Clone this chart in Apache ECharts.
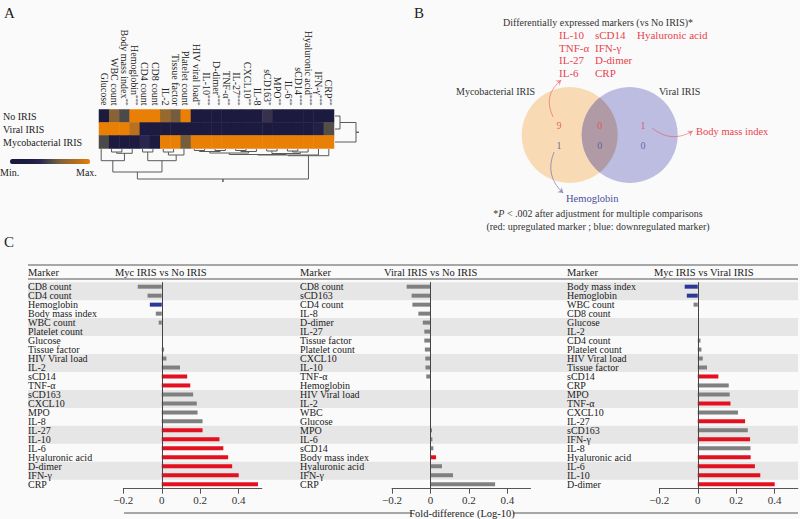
<!DOCTYPE html>
<html><head><meta charset="utf-8">
<script src="https://cdn.jsdelivr.net/npm/echarts@6/dist/echarts.min.js"></script>
<style>html,body{margin:0;padding:0;background:#fafafa}#c{width:800px;height:519px}</style>
</head><body><div id="c"></div>
<script>
// ---------- Panel A : heatmap ----------
const heatColumns = ['Glucose','WBC count','Body mass index','Hemoglobin','CD4 count','CD8 count','IL-2','Tissue factor','Platelet count','HIV viral load','IL-10','D-dimer','TNF-α','IL-27','CXCL10','IL-8','sCD163','MPO','IL-6','sCD14','Hyaluronic acid','IFN-γ','CRP'];
const heatStars = ['','','**','***','','','','','','*','***','***','**','***','**','','*','**','**','***','***','***','**'];
const heatRows = ['No IRIS','Viral IRIS','Mycobacterial IRIS'];
const heatNoIRIS = [0.02,0.66,0.5,1,1,1,0.72,0.6,1,0.02,0.12,0.06,0.12,0.12,0.1,0.06,0.42,0.02,0.02,0.02,0.02,0.02,0.02];
const heatViral  = [1,1,1,0.85,0.03,0.06,0,0,0,0,0,0,0,0,0,0,0,0,0.05,0.1,0.12,0.3,0.52];
const heatMyco   = [0.5,0,0,0.02,0.38,0.04,1,1,0.6,1,1,1,1,1,1,1,1,1,1,1,1,1,1];
// dendrogram linkages: [nodeA, nodeB, height]; leaves first, merged nodes numbered after
const colLinkage = [[1,2,3],[23,3,4.3],[0,24,11.7],[4,5,3],[6,7,3],[27,8,6],[26,28,11.7],[25,29,23],
  [9,10,1.5],[11,12,1.5],[13,14,1.5],[31,32,2.5],[33,15,2.5],[16,17,2],[18,19,2],[37,20,3],[34,35,4],[36,38,4.5],[39,40,5.5],[41,21,6],[42,22,6.7],[30,43,30]];
const rowLinkage = [[0,1,5],[3,2,21]];

// ---------- Panel B : Venn ----------
const vennSets = ['Mycobacterial IRIS','Viral IRIS'];
const vennUp = [9,0,1];     // myc only, both, viral only
const vennDown = [1,0,0];
const mycUpMarkers = ['IL-10','TNF-α','IL-27','IL-6','sCD14','IFN-γ','D-dimer','CRP','Hyaluronic acid'];
const viralUpMarkers = ['Body mass index'];
const mycDownMarkers = ['Hemoglobin'];

// ---------- Panel C : bars ----------
const mycNoMarkers = ['CD8 count','CD4 count','Hemoglobin','Body mass index','WBC count','Platelet count','Glucose','Tissue factor','HIV Viral load','IL-2','sCD14','TNF-α','sCD163','CXCL10','MPO','IL-8','IL-27','IL-10','IL-6','Hyaluronic acid','D-dimer','IFN-γ','CRP'];
const mycNoValues = [-0.125,-0.074,-0.062,-0.031,-0.016,0,0,0.012,0.024,0.095,0.132,0.148,0.163,0.182,0.186,0.212,0.212,0.30,0.32,0.345,0.366,0.40,0.50];
const mycNoStatus = ['n','n','d','n','n','n','n','n','n','n','u','u','n','n','n','n','u','u','u','u','u','u','u'];

const viralNoMarkers = ['CD8 count','sCD163','CD4 count','IL-8','D-dimer','IL-27','Tissue factor','Platelet count','CXCL10','IL-10','TNF-α','Hemoglobin','HIV Viral load','IL-2','WBC','Glucose','MPO','IL-6','sCD14','Body mass index','Hyaluronic acid','IFN-γ','CRP'];
const viralNoValues = [-0.124,-0.098,-0.094,-0.063,-0.04,-0.032,-0.032,-0.029,-0.027,-0.026,-0.022,0,0,0,0,0,0.008,0.01,0.015,0.029,0.06,0.117,0.336];
const viralNoStatus = ['n','n','n','n','n','n','n','n','n','n','n','n','n','n','n','n','n','n','n','u','n','n','n'];

const mycViralMarkers = ['Body mass index','Hemoglobin','WBC count','CD8 count','Glucose','IL-2','CD4 count','Platelet count','HIV Viral load','Tissue factor','sCD14','CRP','MPO','TNF-α','CXCL10','IL-27','sCD163','IFN-γ','IL-8','Hyaluronic acid','IL-6','IL-10','D-dimer'];
const mycViralValues = [-0.068,-0.057,-0.022,0,0,0,0.014,0.019,0.026,0.048,0.107,0.161,0.166,0.17,0.209,0.246,0.26,0.272,0.274,0.275,0.297,0.325,0.40];
const mycViralStatus = ['d','d','n','n','n','n','n','n','n','n','u','n','n','u','n','u','n','u','n','u','u','u','u'];

const xTicks = [-0.2,0,0.2,0.4];

// ================= build =================
const FONT = "'Liberation Serif','DejaVu Serif',serif";
const RED = '#e3101f', BLUE = '#2c3896', GRAY = '#808080';
const statusColor = {u: RED, d: BLUE, n: GRAY};
const chart = echarts.init(document.getElementById('c'), null, {renderer: 'svg'});

function dendro(linkage, nLeaves, stub) {
  const pos = [], hgt = [], segs = [];
  for (let i = 0; i < nLeaves; i++) { pos.push(i); hgt.push(0); }
  linkage.forEach(([a, b, h]) => {
    segs.push([pos[a], hgt[a], pos[b], hgt[b], h]);
    pos.push((pos[a] + pos[b]) / 2); hgt.push(h);
  });
  const r = pos.length - 1;
  segs.push([pos[r], hgt[r], pos[r], hgt[r], hgt[r] + stub]);
  return segs;
}
const colSegs = dendro(colLinkage, heatColumns.length, 3);
const rowSegs = dendro(rowLinkage, heatRows.length, 3);

const heatData = [];
[heatNoIRIS, heatViral, heatMyco].forEach((arr, r) => arr.forEach((v, c) => heatData.push([c, r, v])));

const grids = [], xAxes = [], yAxes = [], series = [];
function addGrid(g, xa, ya) { grids.push(g); const gi = grids.length - 1;
  xAxes.push(Object.assign({gridIndex: gi}, xa)); yAxes.push(Object.assign({gridIndex: gi}, ya)); return xAxes.length - 1; }
const hidden = {show: false};

// heatmap grid (0)
const hm = addGrid({left: 96, top: 109.5, width: 238, height: 39},
  {type: 'category', position: 'top', data: heatColumns, axisLine: hidden, axisTick: hidden, splitArea: hidden,
   axisLabel: {interval: 0, rotate: 90, margin: 4, lineHeight: 10,
     fontFamily: FONT, fontSize: 10, color: '#222',
     formatter: (v, i) => heatStars[i] ? v + '{s|' + heatStars[i] + '}' : v,
     rich: {s: {fontSize: 7, fontFamily: FONT, color: '#222', verticalAlign: 'top', lineHeight: 10}}}},
  {type: 'category', inverse: true, data: heatRows, axisLine: hidden, axisTick: hidden,
   axisLabel: {interval: 0, align: 'left', margin: 96, fontFamily: FONT, fontSize: 10, lineHeight: 12, color: '#222'}});
series.push({type: 'heatmap', xAxisIndex: hm, yAxisIndex: hm, data: heatData, itemStyle: {borderWidth: 0}, silent: true});

function dendroRender(swap) {
  return function (params, api) {
    const xa = api.value(0), ha = api.value(1), xb = api.value(2), hb = api.value(3), h = api.value(4);
    const P = (p, q) => api.coord(swap ? [q, p] : [p, q]);
    return {type: 'polyline', shape: {points: [P(xa, ha), P(xa, h), P(xb, h), P(xb, hb)]},
      style: {stroke: '#5a5a5a', lineWidth: 1, fill: null}};
  };
}
// column dendrogram grid
const cd = addGrid({left: 96, top: 149, width: 238, height: 33},
  {type: 'value', min: -0.5, max: 22.5, show: false}, {type: 'value', min: 0, max: 33, inverse: true, show: false});
series.push({type: 'custom', xAxisIndex: cd, yAxisIndex: cd, data: colSegs, renderItem: dendroRender(false), silent: true, clip: false});
// row dendrogram grid
const rd = addGrid({left: 335, top: 109.5, width: 25, height: 39},
  {type: 'value', min: 0, max: 25, show: false}, {type: 'value', min: -0.5, max: 2.5, inverse: true, show: false});
series.push({type: 'custom', xAxisIndex: rd, yAxisIndex: rd, data: rowSegs, renderItem: dendroRender(true), silent: true, clip: false});

// Venn grid
const vg = addGrid({left: 503.7, top: 67.8, width: 192, height: 134.4},
  {type: 'value', min: -2, max: 2, show: false}, {type: 'value', min: -1.4, max: 1.4, show: false});
const vennCircles = [[-0.625, 0, 1], [0.625, 0, 1]];
const vennFill = ['#f8dab4', '#bcbde0'];
series.push({type: 'custom', xAxisIndex: vg, yAxisIndex: vg, data: vennCircles, silent: true, clip: false, z: 1,
  renderItem(params, api) {
    const c = api.coord([api.value(0), api.value(1)]);
    const r = api.size([api.value(2), 0])[0];
    return {type: 'circle', shape: {cx: c[0], cy: c[1], r}, style: {fill: vennFill[params.dataIndex]}};
  }});
series.push({type: 'custom', xAxisIndex: vg, yAxisIndex: vg, data: [[0]], silent: true, clip: false, z: 1,
  renderItem(params, api) {
    const c1 = api.coord([vennCircles[0][0], vennCircles[0][1]]);
    const c2 = api.coord([vennCircles[1][0], vennCircles[1][1]]);
    const r = api.size([vennCircles[0][2], 0])[0];
    const d = c2[0] - c1[0], h = Math.sqrt(r * r - d * d / 4), mx = (c1[0] + c2[0]) / 2, cy = c1[1];
    return {type: 'path', shape: {pathData: `M${mx} ${cy - h}A${r} ${r} 0 0 1 ${mx} ${cy + h}A${r} ${r} 0 0 1 ${mx} ${cy - h}Z`},
      style: {fill: '#b09aa6'}};
  }});
const countX = [-0.85, 0.0, 0.9];
const countData = [];
vennUp.forEach((v, i) => countData.push({value: [countX[i], 0.19, v], label: {color: '#e8434e'}}));
vennDown.forEach((v, i) => countData.push({value: [countX[i], -0.21, v], label: {color: '#4a4f9c'}}));
series.push({type: 'scatter', xAxisIndex: vg, yAxisIndex: vg, data: countData, symbolSize: 0, silent: true, z: 5,
  label: {show: true, position: 'inside', formatter: p => String(p.value[2]), fontFamily: FONT, fontSize: 10}});
series.push({type: 'lines', coordinateSystem: 'cartesian2d', xAxisIndex: vg, yAxisIndex: vg, silent: true, z: 5,
  symbol: ['none', 'arrow'], symbolSize: 5,
  data: [
    {coords: [[-0.97, 0.375], [-0.8, 1.146]], lineStyle: {color: '#e8434e', curveness: 0.4, width: 1}},
    {coords: [[1.09, 0.146], [1.94, 0.083]], lineStyle: {color: '#e8434e', curveness: -0.35, width: 1}},
    {coords: [[-0.95, -0.354], [-0.76, -1.21]], lineStyle: {color: '#4a4f9c', curveness: -0.35, width: 1}}
  ]});

// Panel C: background bands grid
const bandTop = 282.2, bandH = 206.5;
const bg = addGrid({left: 28, top: bandTop, width: 770, height: bandH},
  {type: 'value', min: 0, max: 1, show: false},
  {type: 'category', inverse: true, data: mycNoMarkers, axisLine: hidden, axisTick: hidden, axisLabel: hidden,
   splitArea: {show: true, areaStyle: {color: ['#e6e6e6', 'rgba(0,0,0,0)']}}});
series.push({type: 'bar', xAxisIndex: bg, yAxisIndex: bg, data: [], silent: true});

const panels = [
  {left: 123.3, labelX: 28, markers: mycNoMarkers, values: mycNoValues, status: mycNoStatus},
  {left: 392, labelX: 300, markers: viralNoMarkers, values: viralNoValues, status: viralNoStatus},
  {left: 659.3, labelX: 567, markers: mycViralMarkers, values: mycViralValues, status: mycViralStatus}
];
panels.forEach(p => {
  const gi = addGrid({left: p.left, top: bandTop, width: 138.5, height: bandH},
    {type: 'value', min: -0.2, max: 0.52, splitLine: hidden,
     axisLine: {show: true, lineStyle: {color: '#555', width: 1}},
     axisTick: {show: true, length: 5, customValues: xTicks, lineStyle: {color: '#555'}},
     axisLabel: {customValues: xTicks, margin: 6, fontFamily: FONT, fontSize: 11, color: '#333',
       formatter: v => v === 0 ? '0' : (v < 0 ? '−' : '') + Math.abs(v).toFixed(1)}},
    {type: 'category', inverse: true, data: p.markers, axisLine: hidden, axisTick: hidden,
     axisLabel: {align: 'left', margin: p.left - p.labelX, fontFamily: FONT, fontSize: 10, lineHeight: 9, color: '#222', interval: 0}});
  series.push({type: 'bar', xAxisIndex: gi, yAxisIndex: gi, barWidth: 4, silent: true,
    data: p.values.map((v, i) => ({value: v, itemStyle: {color: statusColor[p.status[i]]}})),
    markLine: {silent: true, symbol: 'none', label: {show: false}, lineStyle: {color: '#444', type: 'solid', width: 1},
      data: [{xAxis: 0}]}});
});

// ---- text / rule graphics ----
function T(text, x, y, opt) {
  return Object.assign({type: 'text', x, y, silent: true,
    style: Object.assign({text, font: `11px ${FONT}`, fill: '#222', align: 'left', verticalAlign: 'middle'}, opt || {})});
}
function L(x1, y1, x2, y2, color) {
  return {type: 'line', silent: true, shape: {x1, y1, x2, y2}, style: {stroke: color || '#666', lineWidth: 1}};
}
const g = [];
g.push(T('A', 4, 13, {font: `15px ${FONT}`}));
g.push(T('B', 414, 13, {font: `15px ${FONT}`}));
g.push(T('C', 4, 242, {font: `15px ${FONT}`}));
g.push(T('Min.', 0, 172, {font: `10px ${FONT}`}));
g.push(T('Max.', 76, 172, {font: `10px ${FONT}`}));
// Venn texts
g.push(T('Differentially expressed markers (vs No IRIS)*', 598, 22, {align: 'center', font: `10px ${FONT}`, fill: '#333'}));
const listX = [559, 595, 637], listY = [35, 47.5, 60, 72.5];
mycUpMarkers.forEach((m, i) => {
  const col = i < 8 ? Math.floor(i / 4) : 2, row = i < 8 ? i % 4 : 0;
  g.push(T(m, listX[col], listY[row], {fill: '#e8434e', font: `11px ${FONT}`}));
});
g.push(T(vennSets[0], 456, 91, {fill: '#333', font: `10px ${FONT}`}));
g.push(T(vennSets[1], 659, 91, {fill: '#333', font: `10px ${FONT}`}));
g.push(T(viralUpMarkers[0], 696, 131.5, {fill: '#e8434e', font: `10.5px ${FONT}`}));
g.push(T(mycDownMarkers[0], 566, 198, {fill: '#4a4f9c', font: `10.5px ${FONT}`}));
g.push({type: 'text', x: 598, y: 213, silent: true, style: {text: '*{i|P} < .002 after adjustment for multiple comparisons',
  font: `10px ${FONT}`, fill: '#333', align: 'center', verticalAlign: 'middle',
  rich: {i: {fontStyle: 'italic', font: `italic 10px ${FONT}`, fill: '#333'}}}});
g.push(T('(red: upregulated marker ; blue: downregulated marker)', 598, 226, {align: 'center', font: `10px ${FONT}`, fill: '#333'}));
// Panel C header
g.push(L(28, 265, 798, 265, '#555'));
g.push(L(28, 279, 798, 279, '#555'));
[['Marker', 28], ['Myc IRIS vs No IRIS', 115], ['Marker', 300], ['Viral IRIS vs No IRIS', 384], ['Marker', 567], ['Myc IRIS vs Viral IRIS', 654]]
  .forEach(([t, x]) => g.push(T(t, x, 272, {font: `10.5px ${FONT}`})));
g.push(L(124, 513, 412, 513, '#555'));
g.push(L(513, 513, 798, 513, '#555'));
g.push(T('Fold-difference (Log-10)', 462, 513, {align: 'center', font: `10.5px ${FONT}`}));

chart.setOption({
  backgroundColor: '#fafafa',
  animation: false,
  textStyle: {fontFamily: FONT},
  grid: grids, xAxis: xAxes, yAxis: yAxes, series,
  visualMap: {type: 'continuous', min: 0, max: 1, seriesIndex: 0, orient: 'horizontal', left: 5, top: 154,
    itemWidth: 5, itemHeight: 80, calculable: false, showLabel: false, text: null, padding: 5,
    inRange: {color: ['#1d1a3f', '#1d1a3f', '#1f1c43', '#2a2550', '#4b4a4a', '#80603a', '#a06a28', '#c0721a', '#e98005']}},
  graphic: g
});
</script></body></html>
